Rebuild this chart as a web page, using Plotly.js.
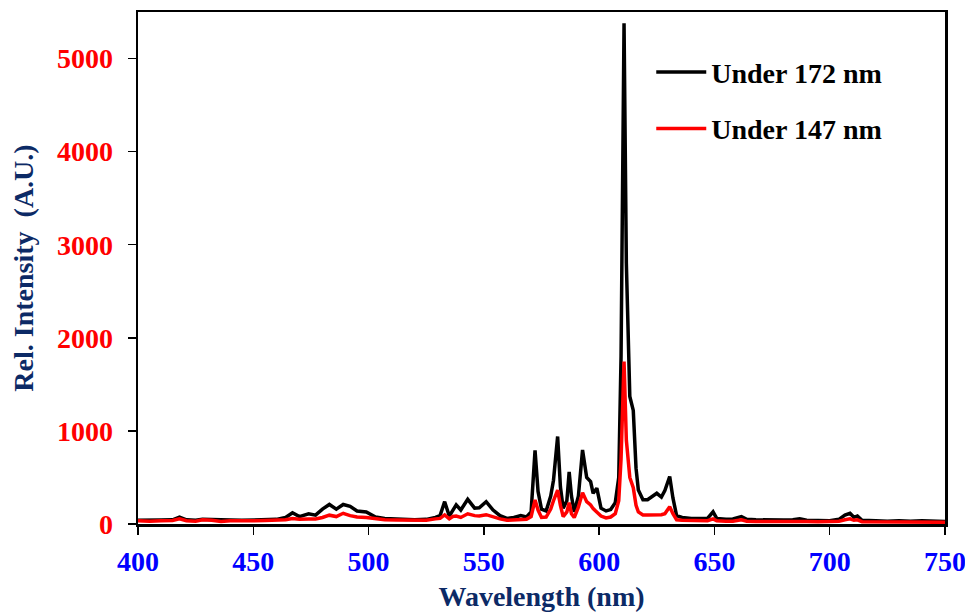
<!DOCTYPE html>
<html>
<head>
<meta charset="utf-8">
<script src="https://cdn.plot.ly/plotly-3.0.1.min.js"></script>
<style>html,body{margin:0;padding:0;background:#fff;}#chart{width:965px;height:612px;}</style>
</head>
<body>
<div id="chart"></div>
<script>
// Wavelength (nm)
var wavelength = [400,405,410,415,418,421,425,428,432,436,440,445,450,455,460,464,467,470,474,477,480,483,486,489,492,495,499,503,507,512,516,520,525,529,531,533,535,536.5,538,540,543,546,548,551,554,557,560,563,566,568.5,570.5,572.2,573.5,575,577,579,580.2,582,583.2,584.4,586,587,588,589.2,591,592.8,594.6,596.3,597.4,599,600.8,603,605,607,608.5,609.5,610.8,611.8,613.3,614.8,616,617,619,621,623,625,627,628.5,630.6,632,633.6,636,640,644,647,649.4,651,655,658,661.7,664,668,675,680,684,687,690,695,700,704,706.6,708.8,710.5,712,714,720,725,730,735,740,745,750];
// Under 172 nm
var under172 = [40,38,42,45,75,45,40,50,45,38,42,40,42,45,50,70,120,80,110,95,160,210,160,210,190,140,130,75,60,55,50,45,50,70,90,240,85,150,205,150,265,170,175,240,150,90,60,70,90,75,130,790,350,160,140,300,470,940,400,170,250,560,300,130,300,795,500,455,330,385,170,140,155,230,500,1800,5380,2800,1370,1220,600,365,260,260,300,330,290,360,510,280,90,70,60,55,60,130,60,50,55,80,50,45,40,42,45,55,40,40,35,50,97,115,72,85,40,35,30,35,30,35,30,28];
// Under 147 nm
var under147 = [35,30,35,38,55,35,30,45,40,28,35,32,35,38,40,45,60,50,55,55,70,95,80,115,90,75,70,55,45,42,40,38,40,55,60,97,55,80,85,70,110,90,85,100,75,55,40,45,55,50,80,258,150,70,75,160,250,365,200,80,130,230,110,70,180,337,240,205,165,130,85,65,75,110,250,700,1745,900,500,390,200,130,97,97,100,95,100,110,186,110,45,40,35,30,35,55,35,30,30,45,30,28,28,30,30,35,28,25,25,30,45,55,40,45,25,25,20,22,20,22,20,18];

var seriesNames = ['Under 172 nm', 'Under 147 nm'];
var xTicks = [400,450,500,550,600,650,700,750];
var yTicks = [0,1000,2000,3000,4000,5000];

var serif = 'Times New Roman, Liberation Serif, serif';

var traces = [
  {x: wavelength, y: under172, name: seriesNames[0], type: 'scatter', mode: 'lines',
   line: {color: '#000000', width: 3.5}, legendgroup: 'a'},
  {x: wavelength, y: under147, name: seriesNames[1], type: 'scatter', mode: 'lines',
   line: {color: '#ff0000', width: 3.5}, legendgroup: 'b'}
];

var layout = {
  width: 965, height: 612,
  margin: {l: 138, r: 20, t: 12, b: 88},
  paper_bgcolor: '#ffffff', plot_bgcolor: '#ffffff',
  showlegend: true,
  legend: {
    x: 0.636, y: 0.931, xanchor: 'left', yanchor: 'top',
    bgcolor: 'rgba(0,0,0,0)', borderwidth: 0,
    traceorder: 'grouped', tracegroupgap: 17, itemwidth: 50,
    font: {family: serif, size: 28, color: '#000000', weight: 'bold'}
  },
  xaxis: {
    range: [400, 750], tickvals: xTicks, ticktext: xTicks.map(String),
    ticks: 'outside', ticklen: 8, tickwidth: 1.5, tickcolor: '#000000',
    ticklabelstandoff: 3, ticklabeloverflow: 'allow',
    showline: true, linecolor: '#000000', linewidth: 2.5, mirror: true,
    showgrid: false, zeroline: false,
    tickfont: {family: serif, size: 28, color: '#0000ff', weight: 'bold'},
    title: {text: 'Wavelength (nm)', standoff: 15,
            font: {family: serif, size: 28, color: '#0c2a66', weight: 'bold'}}
  },
  yaxis: {
    range: [0, 5500], tickvals: yTicks, ticktext: yTicks.map(String),
    ticks: 'outside', ticklen: 8, tickwidth: 1.5, tickcolor: '#000000',
    ticklabelstandoff: 9,
    showline: true, linecolor: '#000000', linewidth: 2.5, mirror: true,
    showgrid: false, zeroline: false,
    tickfont: {family: serif, size: 28, color: '#ff0000', weight: 'bold'},
    title: {text: 'Rel. Intensity\u00a0 (A.U.)', standoff: 15,
            font: {family: serif, size: 28, color: '#0c2a66', weight: 'bold'}}
  }
};

Plotly.newPlot('chart', traces, layout, {displayModeBar: false, staticPlot: true});
</script>
</body>
</html>
